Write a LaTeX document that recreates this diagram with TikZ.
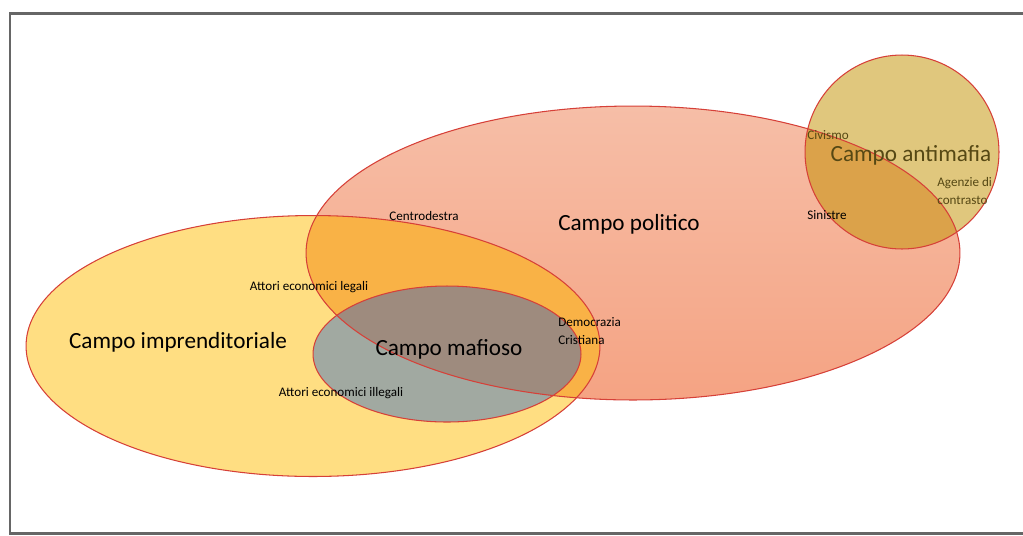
\documentclass[tikz,border=0pt]{standalone}
\usepackage{fontspec}
\setmainfont{Carlito}
\usetikzlibrary{positioning}

\definecolor{giallo}{RGB}{255,222,130}
\definecolor{salmonesu}{RGB}{246,190,167}
\definecolor{salmonegiu}{RGB}{245,163,131}
\definecolor{arancio}{RGB}{249,178,70}
\definecolor{grigio}{RGB}{161,169,161}
\definecolor{bruno}{RGB}{158,139,126}
\definecolor{oliva}{RGB}{224,199,125}
\definecolor{ocra}{RGB}{219,162,74}
\definecolor{bordorosso}{RGB}{214,64,56}
\definecolor{cornice}{RGB}{102,102,102}
\definecolor{testoliva}{RGB}{86,72,20}

\begin{document}
\begin{tikzpicture}[x=0.02cm,y=-0.02cm,inner sep=0.4mm,
  campo/.style={font=\fontsize{13.2}{15}\selectfont},
  attore/.style={font=\fontsize{7.45}{9.8}\selectfont,align=left},
  bordo/.style={draw=bordorosso,line width=0.6pt}]
\useasboundingbox (0,0) rectangle (1023,535);
\def\impr{(313,346) ellipse [x radius=5.74cm, y radius=2.61cm]}
\def\pol{(633,253) ellipse [x radius=6.54cm, y radius=2.94cm]}
\def\maf{(447,354) ellipse [x radius=2.68cm, y radius=1.36cm]}
\def\anti{(902,152) circle [radius=1.94cm]}

% campi
\fill [giallo] \impr;
\shade [top color=salmonesu, bottom color=salmonegiu] \pol;
\begin{scope}
\clip \impr;
\fill [arancio] \pol;
\end{scope}
\fill [grigio] \maf;
\begin{scope}
\clip \pol;
\fill [bruno] \maf;
\end{scope}
\fill [oliva] \anti;
\begin{scope}
\clip \pol;
\fill [ocra] \anti;
\end{scope}
\draw [bordo] \impr;
\draw [bordo] \pol;
\draw [bordo] \maf;
\draw [bordo] \anti;

% cornice
\draw [cornice,line width=0.06cm] (1030,13) -- (10,13) -- (10,533) -- (1030,533);

% etichette
\node (politico) at (629,224) [campo] {Campo politico};
\node (imprenditoriale) at (178,342) [campo] {Campo imprenditoriale};
\node (mafioso) at (449,349) [campo] {Campo mafioso};
\node (antimafia) at (911,155) [campo,text=testoliva] {Campo antimafia};
\node (centrodestra) at (424,216) [attore] {Centrodestra};
\node (legali) at (309,287) [attore] {Attori economici legali};
\node (illegali) at (341,393) [attore] {Attori economici illegali};
\node (dc) at (556,331) [attore,anchor=west] {Democrazia\\Cristiana};
\node (sinistre) at (827,215) [attore] {Sinistre};
\node (civismo) at (828,135) [attore,text=testoliva] {Civismo};
\node (agenzie) at (935,191) [attore,anchor=west,text=testoliva] {Agenzie di\\contrasto};

\end{tikzpicture}
\end{document}
